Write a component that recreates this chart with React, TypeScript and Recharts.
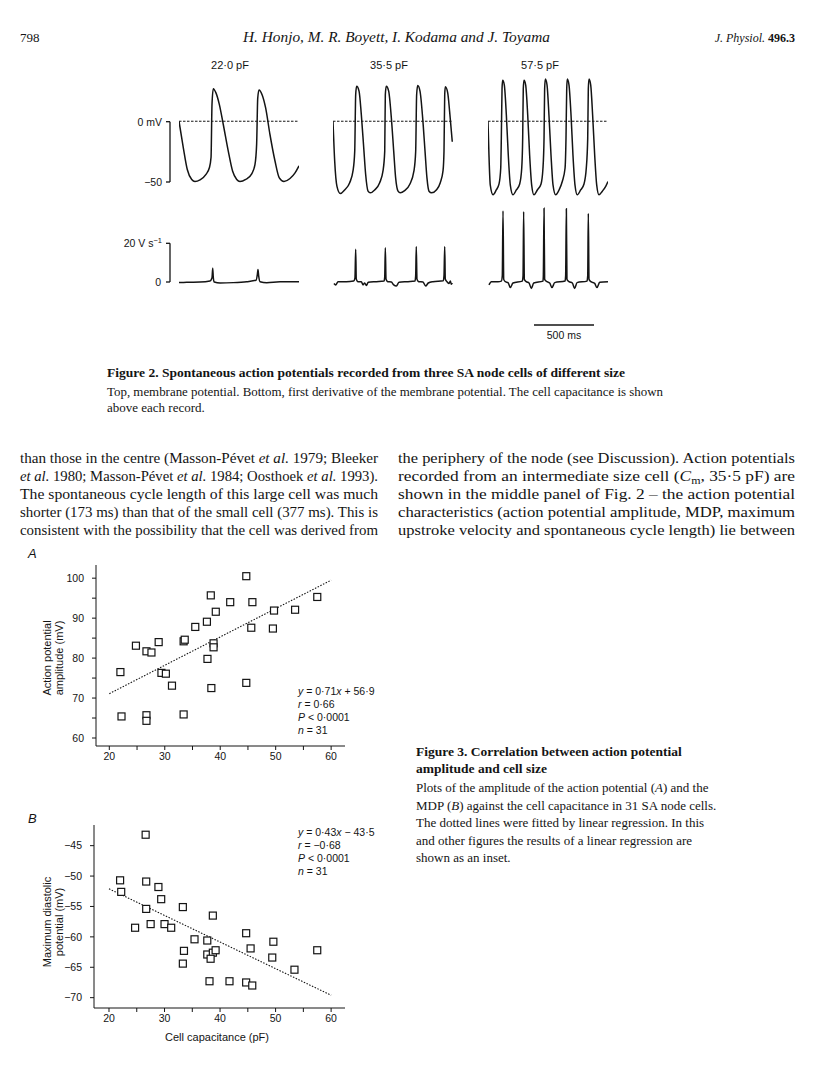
import React from 'react';
import { LineChart, Line, XAxis, YAxis, ReferenceLine, ScatterChart, Scatter } from 'recharts';

const SANS = "'Liberation Sans', Arial, sans-serif";
const SERIF = "'Liberation Serif', 'Times New Roman', serif";
const INK = '#141414';

// Figure 2, membrane potential traces: [time (ms), Vm (mV)]
const vm22: [number, number][] = [
  [0, 0], [36, -22], [69, -40], [106, -48.3], [133, -50], [175, -48.6], [225, -44], [253, -38.6],
  [267, -30], [275, 14], [286, 27], [308, 23.5], [336, 14], [369, -2.7], [411, -25], [447, -41.5],
  [481, -48.3], [508, -50], [556, -48.3], [606, -43.6], [633, -36], [647, -19], [656, 19], [667, 26],
  [694, 21.6], [722, 11], [758, -11], [800, -33], [836, -47], [875, -50], [925, -47.5], [967, -42.8],
  [1000, -37],
];
const vm35: [number, number][] = [
  [0, 0], [14, -33], [33, -54], [61, -60], [97, -57], [139, -51], [167, -41], [181, -25], [189, 22],
  [197, 29], [217, 25], [236, 5.5], [256, -22], [272, -44], [292, -58], [311, -59.4], [347, -57],
  [389, -51], [417, -41], [431, -25], [436, 22], [444, 29], [464, 25], [486, 3], [506, -25], [522, -47],
  [542, -58], [561, -59.4], [597, -57.5], [639, -52.5], [675, -41], [689, -25], [697, 22], [706, 29.6],
  [725, 25], [747, 3], [767, -25], [783, -47], [800, -58], [822, -59.4], [861, -57], [894, -51],
  [917, -41], [925, -25], [931, 22], [936, 28.5], [956, 23.5], [972, 8], [994, -17],
];
const vm57: [number, number][] = [
  [0, 0], [8, -28], [19, -53], [42, -61], [69, -57], [92, -52], [106, -39], [111, -14], [117, 27],
  [122, 34], [136, 30], [153, 5], [169, -28], [186, -53], [208, -61], [236, -57], [264, -52], [281, -39],
  [289, -14], [294, 27], [300, 34], [314, 30], [331, 5], [347, -28], [364, -53], [383, -61], [411, -57],
  [442, -52], [458, -39], [467, -14], [472, 27], [478, 35], [492, 30], [508, 5], [525, -28], [542, -53],
  [564, -61], [592, -57], [619, -50], [642, -39], [650, -14], [656, 27], [661, 35], [675, 30], [692, 5],
  [708, -28], [725, -53], [744, -61], [772, -57], [800, -52], [819, -39], [831, -14], [836, 27],
  [842, 35], [856, 30], [872, 5], [889, -28], [906, -53], [925, -61], [953, -58], [981, -54], [1000, -50],
];

// Figure 2, first derivative traces: [time (ms), dV/dt (V/s)]
const dv22: [number, number][] = [
  [0, -0.5], [64, -0.3], [175, -0.2], [258, 0.3], [275, 2], [281, 7], [286, 2], [294, -0.2], [342, -0.7],
  [453, -0.5], [564, 0], [642, 0.7], [653, 3.8], [658, 6.3], [664, 3], [675, 0], [731, -0.5], [842, 0],
  [1000, 0],
];
const dv35: [number, number][] = [
  [8, -1], [22, -1.7], [42, 0], [111, 0], [172, 0.3], [183, 2], [189, 16.9], [194, 1.2], [208, 0],
  [236, 0], [250, -1.7], [264, -0.7], [278, -2], [294, -0.3], [361, 0], [425, 0.3], [431, 2.4],
  [436, 17.7], [442, 1.2], [456, 0], [486, -0.2], [506, -1.7], [528, -2.3], [550, -0.3], [625, 0],
  [683, 0.3], [689, 3], [694, 18.3], [700, 1.2], [714, 0], [750, -0.2], [772, -2.3], [794, -0.7],
  [833, 0], [919, 0.5], [925, 3], [931, 18.3], [936, 1.2], [950, 0], [967, -1], [978, 0.3], [986, -1.4],
  [994, -0.7],
];
const dv57: [number, number][] = [
  [8, -1.7], [28, 0], [83, 0], [111, 0.3], [119, 3], [125, 36.9], [131, 1.2], [144, 0], [167, -0.5],
  [186, -3.1], [208, -0.7], [286, 0.3], [292, 3], [297, 36.5], [303, 1.2], [319, 0], [342, -0.7],
  [361, -3.5], [381, -0.7], [458, 0.3], [461, 3], [467, 38.3], [472, 1.2], [492, 0], [514, -0.7],
  [533, -3.1], [556, -0.5], [642, 0.3], [647, 3], [653, 38.1], [658, 1.2], [675, 0], [703, -0.7],
  [722, -3.5], [742, -0.5], [825, 0.3], [831, 3], [836, 35.6], [842, 1.2], [858, 0], [889, -0.9],
  [908, -3.1], [931, -0.3], [1000, 0],
];

const cellLabels = ['22·0 pF', '35·5 pF', '57·5 pF'];

// Figure 3: cell capacitance (pF) vs action potential amplitude (mV)
const capA = [22.0, 22.2, 24.8, 26.7, 27.6, 26.7, 26.7, 28.9, 29.4, 30.2, 31.3, 33.4, 33.6, 33.4, 35.5, 37.6,
  38.3, 37.7, 38.8, 38.8, 38.4, 39.2, 41.8, 44.7, 44.7, 45.8, 45.6, 49.7, 49.5, 53.5, 57.5];
const ampA = [76.5, 65.4, 83.1, 81.7, 81.4, 65.7, 64.3, 84.0, 76.3, 76.1, 73.1, 84.2, 84.6, 65.9, 87.8, 89.1,
  95.7, 79.8, 83.7, 82.7, 72.5, 91.6, 94.0, 100.5, 73.8, 94.0, 87.6, 91.9, 87.4, 92.1, 95.3];

// Figure 3: cell capacitance (pF) vs maximum diastolic potential (mV)
const capB = [22.0, 22.2, 26.6, 26.7, 26.7, 24.7, 27.5, 28.9, 29.4, 30.0, 31.2, 33.3, 33.5, 33.3, 35.4, 37.7,
  37.7, 38.7, 38.7, 38.3, 39.2, 38.1, 41.7, 44.7, 44.7, 45.8, 45.5, 49.6, 49.4, 53.4, 57.5];
const mdpB = [-50.7, -52.6, -43.2, -50.9, -55.4, -58.5, -57.9, -51.8, -53.8, -57.9, -58.5, -55.1, -62.3, -64.4,
  -60.4, -60.6, -62.9, -56.5, -62.6, -63.6, -62.2, -67.3, -67.3, -59.4, -67.5, -68.0, -61.9, -60.8, -63.4,
  -65.4, -62.2];

// regression lines (end points)
const fitX = [20, 60];
const fitA = [71.1, 99.5];
const fitB = [-52.1, -69.6];

const statsA = ['0·71', '56·9', '0·66', '0·0001', '31'];
const statsB = ['0·43', '43·5', '−0·68', '0·0001', '31'];

const capTicks = [20, 25, 30, 35, 40, 45, 50, 55, 60];
const ampTicks = [60, 65, 70, 75, 80, 85, 90, 95, 100];
const mdpTicks = [-70, -65, -60, -55, -50, -45];

const toRows = (pts: [number, number][]) => pts.map(([t, v]) => ({ t, v }));

function Trace({ pts, left, top, height, domain, zero }: any) {
  return (
    <div style={{ position: 'absolute', left, top }}>
      <LineChart width={120} height={height} data={toRows(pts)} margin={{ top: 0, right: 0, bottom: 0, left: 0 }}
        style={{ overflow: 'visible' }}>
        <XAxis dataKey="t" type="number" domain={[0, 1000]} hide />
        <YAxis type="number" domain={domain} hide allowDataOverflow />
        {zero && <ReferenceLine y={0} stroke={INK} strokeWidth={1} strokeDasharray="2.5 1.5" />}
        <Line type="monotone" dataKey="v" stroke={INK} strokeWidth={1.5} dot={false} isAnimationActive={false} />
      </LineChart>
    </div>
  );
}

const Square = (p: any) => (
  <rect x={p.cx - 3.5} y={p.cy - 3.5} width={7} height={7} fill="#fff" stroke={INK} strokeWidth={1.2} />
);

const tickStyle = { fill: INK, fontSize: 10.5, fontFamily: SANS };
const minus = (v: number) => String(v).replace('-', '\u2212');

function Scatterplot({ xs, ys, fit, left, top, height, marginLeft, marginBottom, xMin, yDomain, yTicks, yFmt }: any) {
  const data = xs.map((x: number, i: number) => ({ x, y: ys[i] }));
  return (
    <div style={{ position: 'absolute', left, top }}>
      <ScatterChart width={360} height={height} margin={{ top: 10, right: 35, bottom: marginBottom, left: marginLeft }}>
        <XAxis dataKey="x" type="number" domain={[xMin, 62.5]} ticks={capTicks}
          tickFormatter={(v: number) => (v % 10 === 0 ? String(v) : '')} stroke={INK} tickSize={4} tickMargin={3}
          tick={tickStyle} height={30} allowDataOverflow />
        <YAxis dataKey="y" type="number" domain={yDomain} ticks={yTicks} tickFormatter={yFmt} stroke={INK}
          tickSize={4} tickMargin={8} tick={tickStyle} width={40} allowDataOverflow />
        <ReferenceLine segment={[{ x: fitX[0], y: fit[0] }, { x: fitX[1], y: fit[1] }]} stroke={INK}
          strokeWidth={1.1} strokeDasharray="1.5 1.5" />
        <Scatter data={data} shape={Square} isAnimationActive={false} />
      </ScatterChart>
    </div>
  );
}

function Stats({ x, y, s, neg }: any) {
  const st = { fontFamily: SANS, fontSize: 10.5, fill: INK };
  return (
    <g style={st as any}>
      <text x={x} y={y}><tspan fontStyle="italic">y</tspan> = {s[0]}<tspan fontStyle="italic">x</tspan> {neg ? '−' : '+'} {s[1]}</text>
      <text x={x} y={y + 13}><tspan fontStyle="italic">r</tspan> = {s[2]}</text>
      <text x={x} y={y + 26}><tspan fontStyle="italic">P</tspan> &lt; {s[3]}</text>
      <text x={x} y={y + 39}><tspan fontStyle="italic">n</tspan> = {s[4]}</text>
    </g>
  );
}

const I = ({ children }: any) => <tspan fontStyle="italic">{children}</tspan>;

function PageText() {
  const body = { fontFamily: SERIF, fontSize: 14, fill: INK };
  const cap = { fontFamily: SERIF, fontSize: 13, fill: INK };
  const left = [
    <>than those in the centre (Masson-Pévet <I>et al.</I> 1979; Bleeker</>,
    <><I>et al.</I> 1980; Masson-Pévet <I>et al.</I> 1984; Oosthoek <I>et al.</I> 1993).</>,
    <>The spontaneous cycle length of this large cell was much</>,
    <>shorter (173 ms) than that of the small cell (377 ms). This is</>,
    <>consistent with the possibility that the cell was derived from</>,
  ];
  const right = [
    <>the periphery of the node (see Discussion). Action potentials</>,
    <>recorded from an intermediate size cell (<I>C</I><tspan dy={3} fontSize={10}>m</tspan><tspan dy={-3}>, 35·5 pF) are</tspan></>,
    <>shown in the middle panel of Fig. 2 – the action potential</>,
    <>characteristics (action potential amplitude, MDP, maximum</>,
    <>upstroke velocity and spontaneous cycle length) lie between</>,
  ];
  const fig3 = [
    <>Plots of the amplitude of the action potential (<I>A</I>) and the</>,
    <>MDP (<I>B</I>) against the cell capacitance in 31 SA node cells.</>,
    <>The dotted lines were fitted by linear regression. In this</>,
    <>and other figures the results of a linear regression are</>,
    <>shown as an inset.</>,
  ];
  return (
    <svg width={816} height={1071} style={{ position: 'absolute', left: 0, top: 0, pointerEvents: 'none' }}>
      {/* running head */}
      <text x={20} y={42} style={{ ...body, fontSize: 13 } as any}>798</text>
      <text x={243} y={42} textLength={307} lengthAdjust="spacingAndGlyphs" style={{ ...body, fontSize: 15, fontStyle: 'italic' } as any}>
        H. Honjo, M. R. Boyett, I. Kodama and J. Toyama
      </text>
      <text x={795} y={42} textAnchor="end" style={{ ...body, fontSize: 12 } as any}>
        <I>J. Physiol.</I><tspan fontWeight="bold"> 496.3</tspan>
      </text>

      {/* figure 2 labels and scale bars */}
      {cellLabels.map((l, i) => (
        <text key={l} x={[230, 389, 540][i]} y={69} textAnchor="middle" style={{ fontFamily: SANS, fontSize: 11, fill: INK } as any}>{l}</text>
      ))}
      <g stroke={INK} strokeWidth={1.3}>
        <line x1={170} y1={121.7} x2={170} y2={182} />
        <line x1={166} y1={121.7} x2={170} y2={121.7} />
        <line x1={166} y1={182} x2={170} y2={182} />
        <line x1={170} y1={243.3} x2={170} y2={282} />
        <line x1={166} y1={243.3} x2={170} y2={243.3} />
        <line x1={166} y1={282} x2={170} y2={282} />
        <line x1={534} y1={325} x2={594} y2={325} strokeWidth={1.5} />
      </g>
      <g style={{ fontFamily: SANS, fontSize: 10.5, fill: INK } as any}>
        <text x={162} y={125.5} textAnchor="end">0 mV</text>
        <text x={162} y={186} textAnchor="end">−50</text>
        <text x={162} y={247} textAnchor="end">20 V s<tspan dy={-4} fontSize={7.5}>−1</tspan></text>
        <text x={161} y={286} textAnchor="end">0</text>
        <text x={564} y={339} textAnchor="middle">500 ms</text>
      </g>

      {/* figure 2 legend */}
      <text x={107} y={377} textLength={518} lengthAdjust="spacingAndGlyphs" style={{ ...cap, fontSize: 12.5, fontWeight: 'bold' } as any}>
        Figure 2. Spontaneous action potentials recorded from three SA node cells of different size
      </text>
      <text x={107} y={396} textLength={556} lengthAdjust="spacingAndGlyphs" style={cap as any}>
        Top, membrane potential. Bottom, first derivative of the membrane potential. The cell capacitance is shown
      </text>
      <text x={107} y={412} style={cap as any}>above each record.</text>

      {/* body text */}
      {left.map((l, i) => (
        <text key={'l' + i} x={20} y={463 + i * 18} textLength={358} lengthAdjust="spacingAndGlyphs" style={body as any}>{l}</text>
      ))}
      {right.map((l, i) => (
        <text key={'r' + i} x={398} y={463 + i * 18} textLength={397} lengthAdjust="spacingAndGlyphs" style={{ ...body, fontSize: 14.5 } as any}>{l}</text>
      ))}

      {/* figure 3 panel labels, axis titles, insets */}
      <text x={28} y={558} style={{ fontFamily: SANS, fontSize: 13, fontStyle: 'italic', fill: INK } as any}>A</text>
      <text x={28} y={823} style={{ fontFamily: SANS, fontSize: 13, fontStyle: 'italic', fill: INK } as any}>B</text>
      <g style={{ fontFamily: SANS, fontSize: 11, fill: INK } as any} textAnchor="middle">
        <text transform="translate(50.5 658) rotate(-90)">Action potential</text>
        <text transform="translate(62.5 658) rotate(-90)">amplitude (mV)</text>
        <text transform="translate(50.5 922) rotate(-90)">Maximum diastolic</text>
        <text transform="translate(62.5 922) rotate(-90)">potential (mV)</text>
        <text x={217} y={1041}>Cell capacitance (pF)</text>
      </g>
      <Stats x={298} y={695} s={statsA} />
      <Stats x={298} y={836} s={statsB} neg />

      {/* figure 3 legend */}
      <text x={416} y={756} style={{ ...cap, fontSize: 13.5, fontWeight: 'bold' } as any}>Figure 3. Correlation between action potential</text>
      <text x={416} y={773} style={{ ...cap, fontSize: 13.5, fontWeight: 'bold' } as any}>amplitude and cell size</text>
      {fig3.map((l, i) => (
        <text key={'f' + i} x={416} y={792 + i * 17.5} style={cap as any}>{l}</text>
      ))}
    </svg>
  );
}

export default function App() {
  const vmTop = 121.7 - 40 * 1.206;
  const vmH = 105 * 1.206;
  const dvTop = 282 - 40 * 1.917;
  const dvH = 45 * 1.917;
  const x0 = [179, 333.3, 488.3];
  return (
    <div style={{ position: 'absolute', left: 0, top: 0, width: 816, height: 1071, background: '#fff', overflow: 'hidden' }}>
      {[vm22, vm35, vm57].map((pts, i) => (
        <Trace key={'vm' + i} pts={pts} left={x0[i]} top={vmTop} height={vmH} domain={[-65, 40]} zero />
      ))}
      {[dv22, dv35, dv57].map((pts, i) => (
        <Trace key={'dv' + i} pts={pts} left={x0[i]} top={dvTop} height={dvH} domain={[-5, 40]} />
      ))}
      <Scatterplot xs={capA} ys={ampA} fit={fitA} left={20} top={555} height={245} marginLeft={36} marginBottom={24}
        xMin={17.6} yDomain={[58, 103.3]} yTicks={ampTicks} yFmt={(v: number) => (v % 10 === 0 ? String(v) : '')} />
      <Scatterplot xs={capB} ys={mdpB} fit={fitB} left={20} top={815} height={256} marginLeft={34} marginBottom={33}
        xMin={17.3} yDomain={[-71.7, -41.6]} yTicks={mdpTicks} yFmt={minus} />
      <PageText />
    </div>
  );
}
